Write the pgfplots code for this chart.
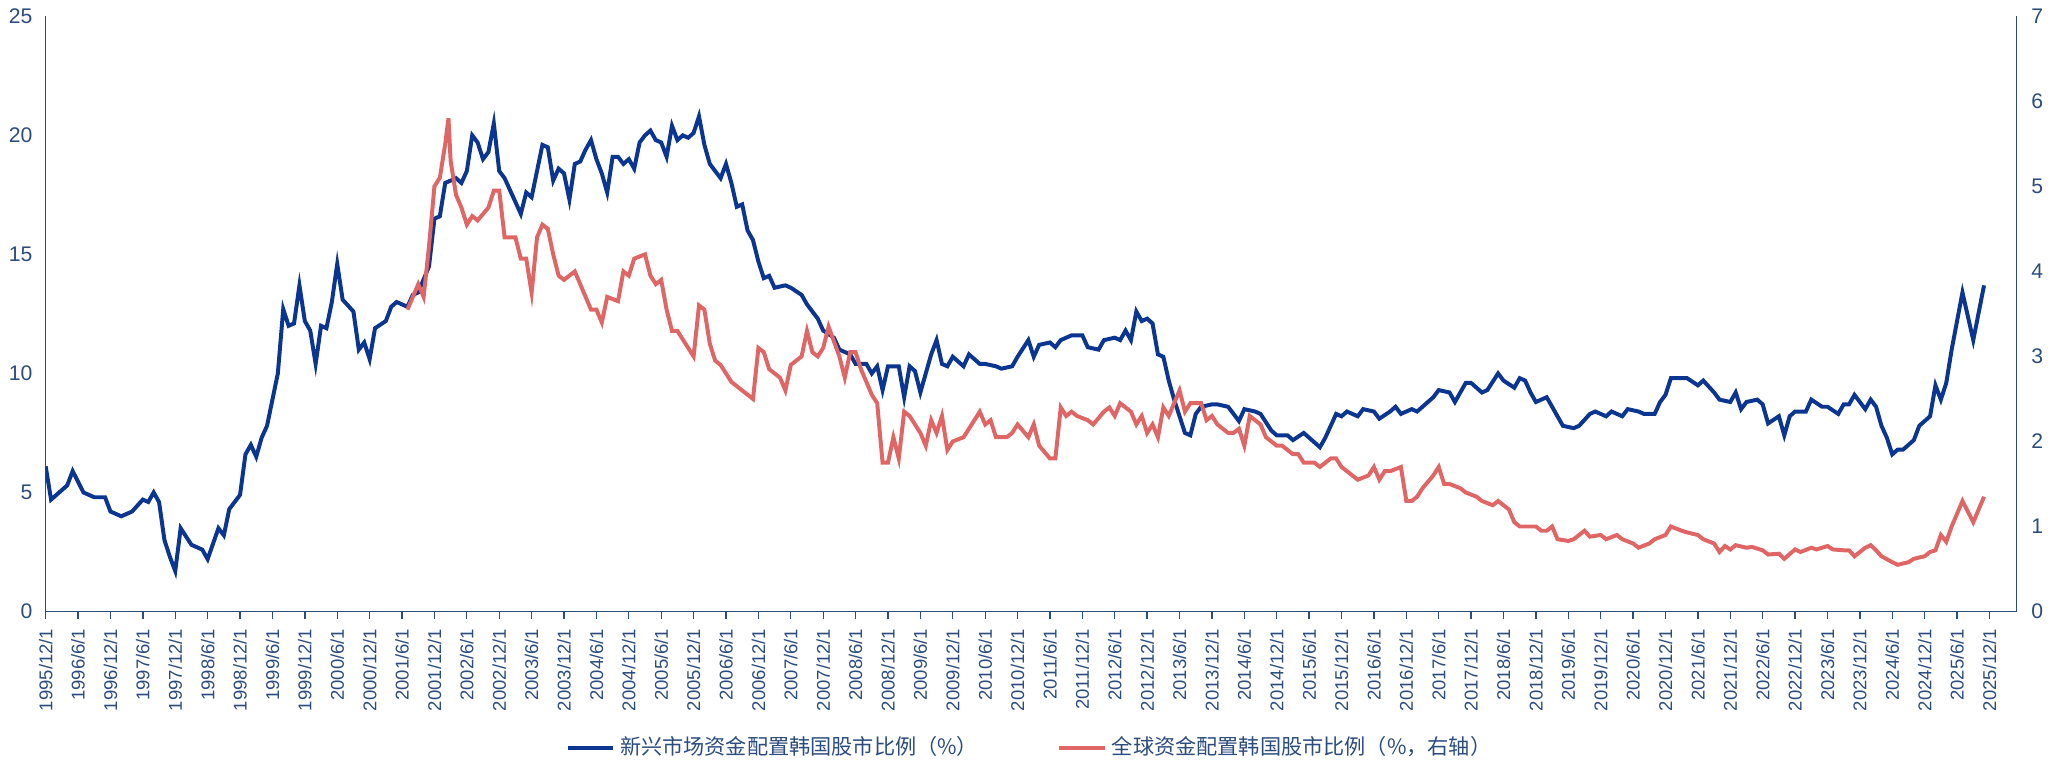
\documentclass[border=0pt]{standalone}
\usepackage{pgfplots}
\pgfplotsset{compat=1.18}
\usepackage{pgfplotstable}
\usepackage{fontspec}
\setmainfont{Liberation Sans}
\newfontfamily\cjk{Noto Sans CJK SC}
\definecolor{navy}{HTML}{0A3591}
\definecolor{lred}{HTML}{E06565}
\definecolor{axc}{HTML}{2B4C7E}
\pgfplotstableread{
m y
0 6.1
1 4.7
4 5.3
5 5.9
7 5.0
9 4.8
11 4.8
12 4.2
14 4.0
16 4.2
18 4.7
19 4.6
20 5.0
21 4.6
22 3.0
23 2.3
24 1.7
25 3.5
27 2.8
29 2.6
30 2.2
32 3.5
33 3.2
34 4.3
36 4.9
37 6.6
38 7.0
39 6.5
40 7.3
41 7.8
43 10.0
44 12.7
45 12.0
46 12.1
47 13.7
48 12.2
49 11.8
50 10.4
51 12.0
52 11.9
53 13.0
54 14.6
55 13.1
57 12.6
58 11.0
59 11.3
60 10.6
61 11.9
63 12.2
64 12.8
65 13.0
67 12.8
68 13.3
69 13.4
71 14.5
72 16.5
73 16.6
74 18.0
76 18.2
77 18.0
78 18.5
79 20.0
80 19.7
81 19.0
82 19.3
83 20.5
84 18.5
85 18.2
87 17.2
88 16.7
89 17.6
90 17.4
91 18.5
92 19.6
93 19.5
94 18.1
95 18.6
96 18.4
97 17.3
98 18.8
99 18.9
100 19.4
101 19.8
102 19.0
103 18.4
104 17.6
105 19.1
106 19.1
107 18.8
108 19.0
109 18.6
110 19.7
111 20.0
112 20.2
113 19.8
114 19.7
115 19.1
116 20.4
117 19.8
118 20.0
119 19.9
120 20.1
121 20.8
122 19.6
123 18.8
124 18.5
125 18.2
126 18.8
127 18.0
128 17.0
129 17.1
130 16.0
131 15.6
132 14.7
133 14.0
134 14.1
135 13.6
137 13.7
138 13.6
140 13.3
141 12.9
143 12.3
144 11.8
146 11.5
147 11.0
149 10.8
150 10.4
152 10.4
153 10.0
154 10.3
155 9.3
156 10.3
158 10.3
159 9.0
160 10.3
161 10.1
162 9.2
163 10.0
164 10.8
165 11.4
166 10.4
167 10.3
168 10.7
170 10.3
171 10.8
173 10.4
174 10.4
176 10.3
177 10.2
179 10.3
180 10.7
182 11.4
183 10.7
184 11.2
186 11.3
187 11.1
188 11.4
190 11.6
192 11.6
193 11.1
195 11.0
196 11.4
198 11.5
199 11.4
200 11.8
201 11.4
202 12.6
203 12.2
204 12.3
205 12.1
206 10.8
207 10.7
208 9.7
209 8.9
210 8.2
211 7.5
212 7.4
213 8.3
214 8.6
216 8.7
217 8.7
219 8.6
220 8.3
221 8.0
222 8.5
224 8.4
225 8.3
227 7.6
228 7.4
230 7.4
231 7.2
233 7.5
234 7.3
236 6.9
237 7.3
239 8.3
240 8.2
241 8.4
243 8.2
244 8.5
246 8.4
247 8.1
249 8.4
250 8.6
251 8.3
253 8.5
254 8.4
256 8.8
257 9.0
258 9.3
260 9.2
261 8.8
263 9.6
264 9.6
266 9.2
267 9.3
269 10.0
270 9.7
272 9.4
273 9.8
274 9.7
275 9.2
276 8.8
278 9.0
279 8.6
280 8.2
281 7.8
283 7.7
284 7.8
286 8.3
287 8.4
289 8.2
290 8.4
292 8.2
293 8.5
295 8.4
296 8.3
298 8.3
299 8.8
300 9.1
301 9.8
303 9.8
304 9.8
306 9.5
307 9.7
309 9.2
310 8.9
312 8.8
313 9.2
314 8.5
315 8.8
317 8.9
318 8.7
319 7.9
321 8.2
322 7.4
323 8.2
324 8.4
326 8.4
327 8.9
329 8.6
330 8.6
332 8.3
333 8.7
334 8.7
335 9.1
337 8.5
338 8.9
339 8.6
340 7.8
341 7.3
342 6.6
343 6.8
344 6.8
346 7.2
347 7.8
348 8.0
349 8.2
350 9.5
351 8.9
352 9.6
353 11.0
355 13.4
357 11.4
359 13.7
}\blue
\pgfplotstableread{
m y
67 3.55
68 3.7
69 3.85
70 3.7
71 4.3
72 5.0
73 5.1
74 5.5
74.6 5.8
75 5.3
76 4.9
77 4.75
78 4.55
79 4.65
80 4.6
82 4.75
83 4.95
84 4.95
85 4.4
87 4.4
88 4.15
89 4.15
90 3.75
91 4.4
92 4.55
93 4.5
94 4.2
95 3.95
96 3.9
98 4.0
99 3.85
100 3.7
101 3.55
102 3.55
103 3.4
104 3.7
106 3.65
107 4.0
108 3.95
109 4.15
111 4.2
112 3.95
113 3.85
114 3.9
115 3.55
116 3.3
117 3.3
119 3.1
120 3.0
121 3.6
122 3.55
123 3.15
124 2.95
125 2.9
126 2.8
127 2.7
128 2.65
130 2.55
131 2.5
132 3.1
133 3.05
134 2.85
135 2.8
136 2.75
137 2.6
138 2.9
140 3.0
141 3.3
142 3.05
143 3.0
144 3.1
145 3.35
147 3.0
148 2.75
149 3.05
150 3.05
151 2.85
153 2.55
154 2.45
155 1.75
156 1.75
157 2.05
158 1.8
159 2.35
160 2.3
162 2.1
163 1.95
164 2.25
165 2.1
166 2.3
167 1.9
168 2.0
170 2.05
171 2.15
173 2.35
174 2.2
175 2.25
176 2.05
178 2.05
179 2.1
180 2.2
182 2.05
183 2.2
184 1.95
186 1.8
187 1.8
188 2.4
189 2.3
190 2.35
191 2.3
193 2.25
194 2.2
196 2.35
197 2.4
198 2.3
199 2.45
201 2.35
202 2.2
203 2.3
204 2.1
205 2.2
206 2.05
207 2.4
208 2.3
209 2.45
210 2.6
211 2.35
212 2.45
214 2.45
215 2.25
216 2.3
217 2.2
219 2.1
220 2.1
221 2.15
222 1.95
223 2.3
225 2.2
226 2.05
228 1.95
229 1.95
231 1.85
232 1.85
233 1.75
235 1.75
236 1.7
238 1.8
239 1.8
240 1.7
242 1.6
243 1.55
245 1.6
246 1.7
247 1.55
248 1.65
249 1.65
251 1.7
252 1.3
253 1.3
254 1.35
255 1.45
257 1.6
258 1.7
259 1.5
260 1.5
262 1.45
263 1.4
265 1.35
266 1.3
268 1.25
269 1.3
271 1.2
272 1.05
273 1.0
274 1.0
276 1.0
277 0.95
278 0.95
279 1.0
280 0.85
282 0.83
283 0.85
285 0.95
286 0.88
288 0.9
289 0.85
291 0.9
292 0.85
294 0.8
295 0.75
297 0.8
298 0.85
300 0.9
301 1.0
303 0.95
304 0.93
306 0.9
307 0.85
309 0.8
310 0.7
311 0.77
312 0.73
313 0.78
315 0.75
316 0.76
318 0.72
319 0.67
321 0.68
322 0.62
324 0.73
325 0.7
327 0.75
328 0.73
330 0.77
331 0.73
333 0.72
334 0.72
335 0.65
337 0.75
338 0.78
339 0.72
340 0.65
342 0.58
343 0.55
345 0.58
346 0.62
348 0.65
349 0.7
350 0.72
351 0.9
352 0.82
353 1.0
355 1.3
357 1.05
359 1.35
}\red
\begin{document}
\begin{tikzpicture}
\pgfplotsset{every axis/.append style={
  scale only axis, width=745pt, height=225pt,
  xmin=0, xmax=365,
  /pgf/number format/assume math mode=true,
  tick label style={font=\fontsize{8}{9}\selectfont, color=axc},
  axis line style={color=axc, line width=0.6pt},
  tick style={color=axc, line width=0.5pt},
}}
\begin{axis}[
  axis x line=bottom, axis y line=left,
  axis line style={-},
  ymin=0, ymax=25, ytick={0,5,...,25},
  xtick={0,6,...,360},
  xticklabels={1995/12/1,1996/6/1,1996/12/1,1997/6/1,1997/12/1,1998/6/1,1998/12/1,1999/6/1,1999/12/1,2000/6/1,2000/12/1,2001/6/1,2001/12/1,2002/6/1,2002/12/1,2003/6/1,2003/12/1,2004/6/1,2004/12/1,2005/6/1,2005/12/1,2006/6/1,2006/12/1,2007/6/1,2007/12/1,2008/6/1,2008/12/1,2009/6/1,2009/12/1,2010/6/1,2010/12/1,2011/6/1,2011/12/1,2012/6/1,2012/12/1,2013/6/1,2013/12/1,2014/6/1,2014/12/1,2015/6/1,2015/12/1,2016/6/1,2016/12/1,2017/6/1,2017/12/1,2018/6/1,2018/12/1,2019/6/1,2019/12/1,2020/6/1,2020/12/1,2021/6/1,2021/12/1,2022/6/1,2022/12/1,2023/6/1,2023/12/1,2024/6/1,2024/12/1,2025/6/1,2025/12/1},
  x tick label style={rotate=90, anchor=east, font=\fontsize{7}{8}\selectfont},
  xtick align=outside, ytick style={draw=none},
  xtick pos=bottom, major tick length=3pt,
  legend style={at={(0.5,-0.229)}, anchor=center, draw=none, legend columns=2,
    font=\cjk\fontsize{8}{9}\selectfont, text=axc,
    /tikz/every even column/.append style={column sep=28pt}},
  legend cell align=left,
]
\addplot[navy, line width=1.5pt] table[x=m,y=y]{\blue};
\addlegendentry{新兴市场资金配置韩国股市比例（\%）}
\addlegendimage{lred, line width=1.5pt}
\addlegendentry{全球资金配置韩国股市比例（\%，右轴）}
\end{axis}
\begin{axis}[
  axis x line=none, axis y line=right,
  axis line style={-},
  ymin=0, ymax=7, ytick={0,1,...,7},
  ytick style={draw=none},
]
\addplot[lred, line width=1.5pt] table[x=m,y=y]{\red};
\end{axis}
\end{tikzpicture}
\end{document}
